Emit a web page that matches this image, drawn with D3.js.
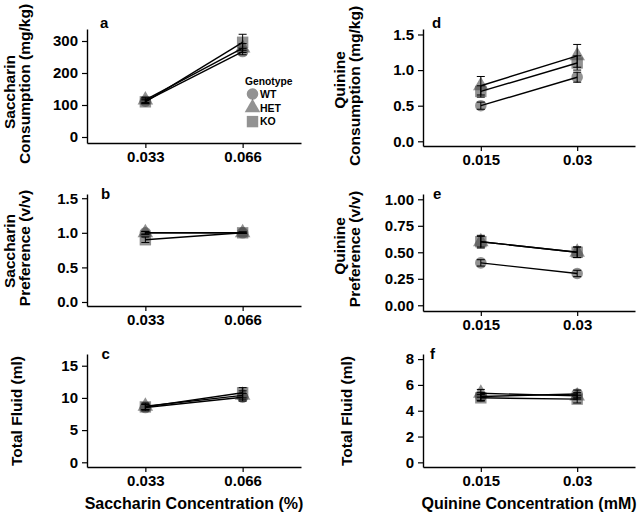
<!DOCTYPE html>
<html><head><meta charset="utf-8">
<script src="https://cdn.jsdelivr.net/npm/d3@7"></script>
<style>
body{margin:0;background:#fff}
svg{display:block}
text{font-family:"Liberation Sans",Arial,sans-serif;font-weight:bold;fill:#000}
</style></head><body>
<svg id="c" width="638" height="514"></svg>
<script>
// ---------- data ----------
const genotypes = ["WT", "HET", "KO"];
const saccharinConc = ["0.033", "0.066"];
const quinineConc = ["0.015", "0.03"];

// a: Saccharin consumption (mg/kg)
const saccConsWT = [112, 267], saccConsHET = [116, 278], saccConsKO = [110, 296];
const saccConsErrWT = [7, 10], saccConsErrHET = [8, 14], saccConsErrKO = [6, 25];
// b: Saccharin preference (v/v)
const saccPrefWT = [1.0, 1.0], saccPrefHET = [1.0, 1.0], saccPrefKO = [0.9, 1.0];
const saccPrefErrWT = [0.02, 0.01], saccPrefErrHET = [0.02, 0.01], saccPrefErrKO = [0.04, 0.01];
// c: Total fluid (ml), saccharin
const saccFluidWT = [8.5, 10.1], saccFluidHET = [8.7, 10.4], saccFluidKO = [8.6, 10.8];
const saccFluidErrWT = [0.5, 0.6], saccFluidErrHET = [0.5, 0.7], saccFluidErrKO = [0.4, 0.8];
// d: Quinine consumption (mg/kg)
const quinConsWT = [0.5, 0.9], quinConsHET = [0.78, 1.2], quinConsKO = [0.7, 1.1];
const quinConsErrWT = [0.05, 0.07], quinConsErrHET = [0.13, 0.16], quinConsErrKO = [0.08, 0.1];
// e: Quinine preference (v/v)
const quinPrefWT = [0.40, 0.30], quinPrefHET = [0.60, 0.50], quinPrefKO = [0.60, 0.50];
const quinPrefErrWT = [0.03, 0.03], quinPrefErrHET = [0.06, 0.05], quinPrefErrKO = [0.05, 0.05];
// f: Total fluid (ml), quinine
const quinFluidWT = [5.1, 5.3], quinFluidHET = [5.35, 5.15], quinFluidKO = [5.0, 4.9];
const quinFluidErrWT = [0.3, 0.3], quinFluidErrHET = [0.3, 0.25], quinFluidErrKO = [0.25, 0.3];

// tick labels
const ticksA = [0, 100, 200, 300], ticksB = [0, 0.5, 1.0, 1.5], ticksC = [0, 5, 10, 15];
const ticksD = [0, 0.5, 1.0, 1.5], ticksE = [0, 0.25, 0.5, 0.75, 1.0], ticksF = [0, 2, 4, 6, 8];

// ---------- layout ----------
const svg = d3.select("#c");
const LEFT_X = 87, RIGHT_X = 423, PW_L = 214, PW_R = 212;

const panels = [
  {id:"a", x0:LEFT_X, w:PW_L, top:29, bottom:143, lo:-18.75, hi:337.5, cats:saccharinConc,
   series:[saccConsWT, saccConsHET, saccConsKO], errs:[saccConsErrWT, saccConsErrHET, saccConsErrKO],
   ticks:ticksA, fmt:d3.format("d"), letter:[100,27.5],
   title:[{t:"Saccharin", x:15, y:92},{t:"Consumption (mg/kg)", x:29.5, y:84}], legend:true},
  {id:"b", x0:LEFT_X, w:PW_L, top:194, bottom:306, lo:-0.058, hi:1.561, cats:saccharinConc,
   series:[saccPrefWT, saccPrefHET, saccPrefKO], errs:[saccPrefErrWT, saccPrefErrHET, saccPrefErrKO],
   ticks:ticksB, fmt:d3.format(".1f"), letter:[101,198.5],
   title:[{t:"Saccharin", x:15, y:251},{t:"Preference (v/v)", x:29.5, y:248}]},
  {id:"c", x0:LEFT_X, w:PW_L, top:354, bottom:467, lo:-0.73, hi:16.82, cats:saccharinConc,
   series:[saccFluidWT, saccFluidHET, saccFluidKO], errs:[saccFluidErrWT, saccFluidErrHET, saccFluidErrKO],
   ticks:ticksC, fmt:d3.format("d"), letter:[101.5,358.5],
   title:[{t:"Total Fluid (ml)", x:21.5, y:411}],
   xtitle:"Saccharin Concentration (%)"},
  {id:"d", x0:RIGHT_X, w:PW_R, top:29, bottom:146, lo:-0.066, hi:1.577, cats:quinineConc,
   series:[quinConsWT, quinConsHET, quinConsKO], errs:[quinConsErrWT, quinConsErrHET, quinConsErrKO],
   ticks:ticksD, fmt:d3.format(".1f"), letter:[432,27.5],
   title:[{t:"Quinine", x:345, y:80},{t:"Consumption (mg/kg)", x:359.5, y:86}]},
  {id:"e", x0:RIGHT_X, w:PW_R, top:194, bottom:311, lo:-0.054, hi:1.05, cats:quinineConc,
   series:[quinPrefWT, quinPrefHET, quinPrefKO], errs:[quinPrefErrWT, quinPrefErrHET, quinPrefErrKO],
   ticks:ticksE, fmt:d3.format(".2f"), letter:[433,198.5],
   title:[{t:"Quinine", x:345, y:246},{t:"Preference (v/v)", x:359.5, y:249}]},
  {id:"f", x0:RIGHT_X, w:PW_R, top:354, bottom:467, lo:-0.36, hi:8.395, cats:quinineConc,
   series:[quinFluidWT, quinFluidHET, quinFluidKO], errs:[quinFluidErrWT, quinFluidErrHET, quinFluidErrKO],
   ticks:ticksF, fmt:d3.format("d"), letter:[430,358.5],
   title:[{t:"Total Fluid (ml)", x:351.5, y:411}],
   xtitle:"Quinine Concentration (mM)"}
];

const shapes = {WT:d3.symbolCircle, HET:d3.symbolTriangle, KO:d3.symbolSquare};
const sizes = {WT:105, HET:105, KO:130};
const MARK_FILL = "#4a4a4a", MARK_OP = 0.6;

panels.forEach(p => {
  const x = d3.scalePoint().domain(p.cats).range([p.x0, p.x0 + p.w]).padding(0.6);
  const y = d3.scaleLinear().domain([p.lo, p.hi]).range([p.bottom, p.top]);
  const g = svg.append("g");

  // y axis
  const ya = g.append("g").attr("transform", `translate(${p.x0},0)`)
    .call(d3.axisLeft(y).tickValues(p.ticks).tickFormat(p.fmt).tickSize(5).tickSizeOuter(0).tickPadding(4));
  // x axis
  const xa = g.append("g").attr("transform", `translate(0,${p.bottom})`)
    .call(d3.axisBottom(x).tickSize(5).tickSizeOuter(0).tickPadding(3));
  [ya, xa].forEach(a => {
    a.selectAll("path.domain").attr("stroke", "#000").attr("stroke-width", 1.4);
    a.selectAll(".tick line").attr("stroke", "#000").attr("stroke-width", 1.2);
    a.selectAll("text").attr("font-size", 15).attr("fill", "#000")
      .attr("font-family", '"Liberation Sans",Arial,sans-serif').attr("font-weight", "bold");
  });

  // markers
  genotypes.forEach((gname, i) => {
    g.selectAll(null).data(p.series[i]).enter().append("path")
      .attr("d", d3.symbol().type(shapes[gname]).size(sizes[gname]))
      .attr("transform", (v, j) => `translate(${x(p.cats[j])},${y(v)})`)
      .attr("fill", MARK_FILL).attr("fill-opacity", MARK_OP);
  });
  // lines
  const line = d3.line().x((v, j) => x(p.cats[j])).y(v => y(v));
  genotypes.forEach((gname, i) => {
    g.append("path").datum(p.series[i]).attr("d", line)
      .attr("fill", "none").attr("stroke", "#000").attr("stroke-width", 1.4);
  });
  // error bars
  genotypes.forEach((gname, i) => {
    p.series[i].forEach((v, j) => {
      const cx = x(p.cats[j]), e = p.errs[i][j];
      const y1 = y(v - e), y2 = y(v + e);
      g.append("line").attr("x1", cx).attr("x2", cx).attr("y1", y1).attr("y2", y2)
        .attr("stroke", "#000").attr("stroke-width", 1);
      [y1, y2].forEach(yy => g.append("line").attr("x1", cx - 4).attr("x2", cx + 4)
        .attr("y1", yy).attr("y2", yy).attr("stroke", "#000").attr("stroke-width", 1));
    });
  });

  // panel letter
  g.append("text").attr("x", p.letter[0]).attr("y", p.letter[1]).attr("font-size", 15).text(p.id);

  // y title
  p.title.forEach(t => {
    g.append("text").attr("transform", `translate(${t.x},${t.y}) rotate(-90)`)
      .attr("text-anchor", "middle").attr("font-size", 15.5).text(t.t);
  });
  // x title
  if (p.xtitle) {
    g.append("text").attr("x", p.x0 + p.w / 2).attr("y", 509).attr("text-anchor", "middle")
      .attr("font-size", 16).text(p.xtitle);
  }

  // legend
  if (p.legend) {
    const lg = g.append("g");
    lg.append("text").attr("x", 245).attr("y", 85).attr("font-size", 10.3).text("Genotype");
    genotypes.forEach((gname, i) => {
      const ly = 94 + i * 13.8;
      lg.append("path").attr("d", d3.symbol().type(shapes[gname]).size(sizes[gname]))
        .attr("transform", `translate(252.5,${ly})`).attr("fill", MARK_FILL).attr("fill-opacity", MARK_OP);
      lg.append("text").attr("x", 260).attr("y", ly + 3.8).attr("font-size", 10.5).text(gname);
    });
  }
});
</script>
</body></html>
